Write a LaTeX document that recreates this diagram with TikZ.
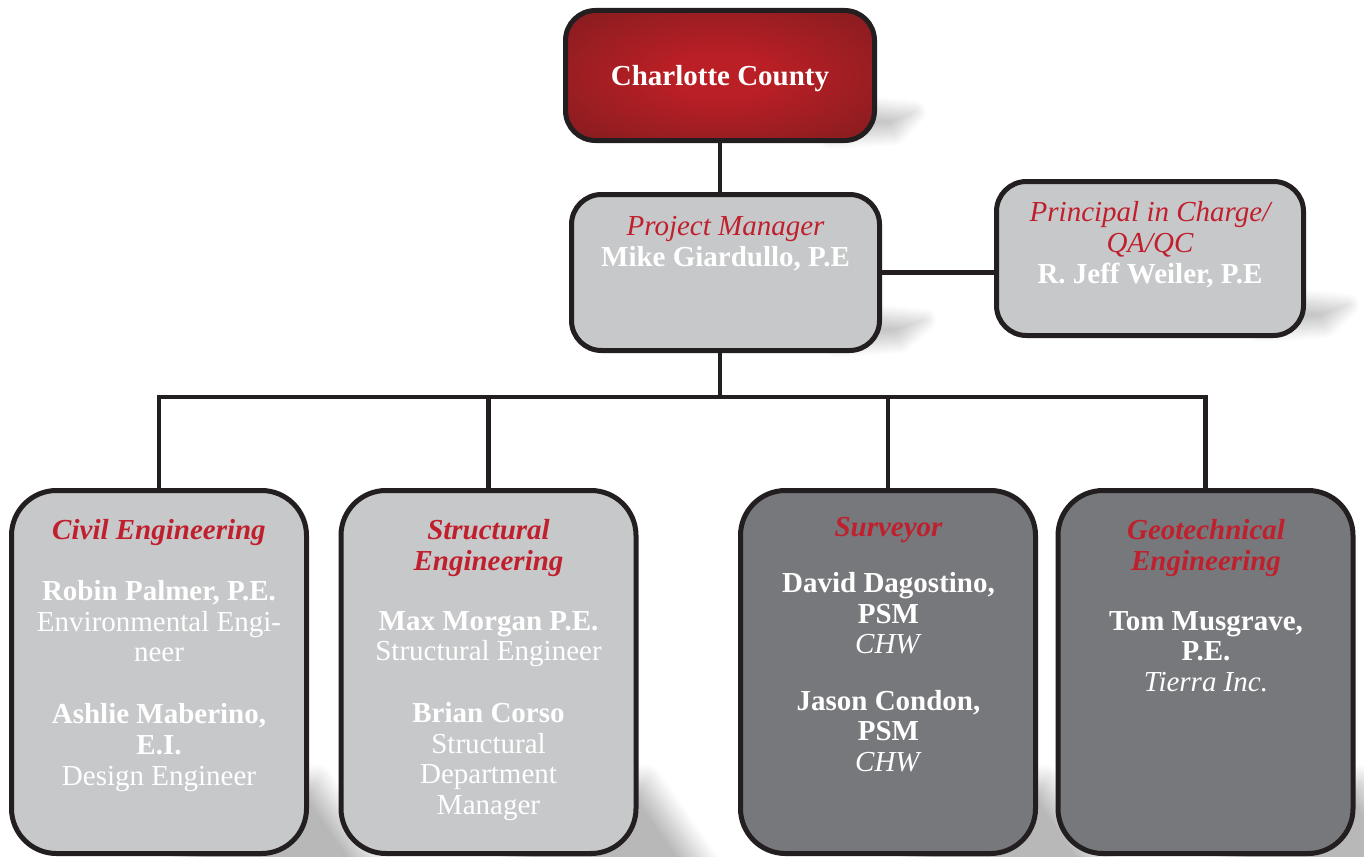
\documentclass[tikz,border=0pt]{standalone}
\usepackage{fontspec}
\setmainfont{Liberation Serif}
\usetikzlibrary{shadows.blur}
\definecolor{outline}{RGB}{35,31,32}
\definecolor{tred}{RGB}{192,32,45}
\definecolor{lightfill}{RGB}{199,200,202}
\definecolor{darkfill}{RGB}{119,120,123}
\definecolor{redc}{RGB}{186,31,37}
\definecolor{rede}{RGB}{120,28,30}
\pgfdeclareradialshading{redglow}{\pgfpoint{0bp}{0bp}}{color(0bp)=(redc); color(8bp)=(redc); color(42bp)=(rede); color(72bp)=(rede)}
\newcommand\hd[1]{\textcolor{tred}{\bfseries\itshape #1}}
\newcommand\nm[1]{\textbf{#1}}
\tikzset{
  box/.style={draw=outline, line width=5pt, rounded corners=#1, inner sep=0pt, outer sep=0pt},
  topbox/.style={box=30pt, fill=lightfill},
  lowlight/.style={box=45pt, fill=lightfill, minimum width=295pt, minimum height=363pt},
  lowdark/.style={box=45pt, fill=darkfill, minimum width=295pt, minimum height=363pt},
  conn/.style={draw=outline, line width=4.5pt},
  txt/.style={align=center, inner sep=0pt, outer sep=0pt, anchor=base, text=white, font=\fontsize{29}{30.7}\selectfont},
  softshadow/.style 2 args={blur shadow={shadow xshift=0pt, shadow yshift=0pt, shadow blur radius=#1, shadow opacity=#2, shadow blur steps=20}},
}
\begin{document}
\begin{tikzpicture}[x=1pt,y=-1pt]
\useasboundingbox (0,0) rectangle (1364,856);
\clip (0,0) rectangle (1364,856);
% shadows
\path[softshadow={12pt}{22}] (830,104) -- (915,112) -- (895,134) -- (830,138) -- cycle;
\path[softshadow={12pt}{22}] (835,312) -- (925,320) -- (900,342) -- (835,346) -- cycle;
\path[softshadow={12pt}{22}] (1260,297) -- (1348,305) -- (1325,327) -- (1260,331) -- cycle;
\foreach \r in {306.5,635.5,1035.5,1351.5}{
  \path[softshadow={18pt}{28}] (\r-120,782) -- (\r+10,782) -- (\r+85,890) -- (\r-120,890) -- cycle;
}
% boxes
\node[box=30pt, shading=redglow, minimum width=309pt, minimum height=130pt] (cc) at (720,75.5) {};
\node[topbox, minimum width=308pt, minimum height=156pt] (pm) at (725.5,272.5) {};
\node[topbox, minimum width=307pt, minimum height=154pt] (pic) at (1150,258.5) {};
\node[lowlight] (civil) at (159,672) {};
\node[lowlight] (struct) at (488.5,672) {};
\node[lowdark] (surv) at (888,672) {};
\node[lowdark] (geo) at (1205.5,672) {};
% connectors
\coordinate (bus) at (720,397);
\draw[conn] (cc.south) -- (cc.south |- pm.north);
\draw[conn] (pm.east) -- (pm.east -| pic.west);
\draw[conn] (cc.south |- pm.south) -- (bus);
\draw[conn] (civil.north) -- (civil.north |- bus) -- (geo.north |- bus) -- (geo.north);
\draw[conn] (struct.north) -- (struct.north |- bus);
\draw[conn] (surv.north) -- (surv.north |- bus);
% texts (anchor = baseline of the last line)
\node[txt] (ccT) at (720,86) {\nm{Charlotte County}};
\node[txt] (pmT) at (725.5,266) {\textcolor{tred}{\itshape Project Manager}\\ \nm{Mike Giardullo, P.E}};
\node[txt] (picT) at (1150,283) {\textcolor{tred}{\itshape Principal in Charge/}\\ \textcolor{tred}{\itshape QA/QC}\\ \nm{R. Jeff Weiler, P.E}};
\node[txt] (civilT) at (159,785) {\hd{Civil Engineering}\\[30.5pt] \nm{Robin Palmer, P.E.}\\ Environmental Engi-\\ neer\\[31pt] \nm{Ashlie Maberino,}\\ \nm{E.I.}\\ Design Engineer};
\node[txt] (structT) at (488.5,814.5) {\hd{Structural}\\ \hd{Engineering}\\[29pt] \nm{Max Morgan P.E.}\\ Structural Engineer\\[31pt] \nm{Brian Corso}\\ Structural\\ Department\\ Manager};
\node[txt] (survT) at (888.5,771.5) {\hd{Surveyor}\\[25.5pt] \nm{David Dagostino,}\\ \nm{PSM}\\ \textit{CHW}\\[25.5pt] \nm{Jason Condon,}\\ \nm{PSM}\\ \textit{CHW}};
\node[txt] (geoT) at (1206,691.5) {\hd{Geotechnical}\\ \hd{Engineering}\\[29pt] \nm{Tom Musgrave,}\\ \nm{P.E.}\\ \textit{Tierra Inc.}};
\end{tikzpicture}
\end{document}
